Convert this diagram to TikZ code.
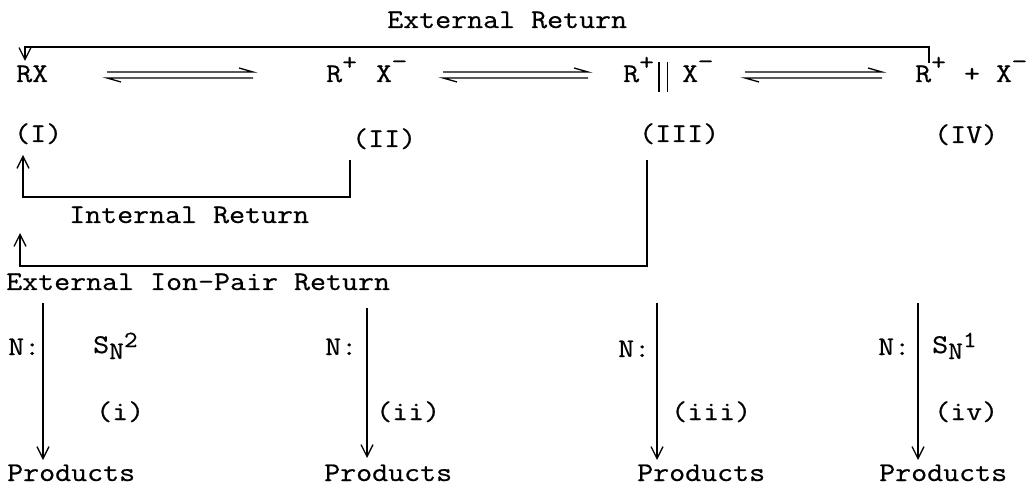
\documentclass[tikz,border=0pt]{standalone}
\usepackage{fontspec}
\setmainfont{Latin Modern Mono}[FakeStretch=1.15,FakeBold=0.6]
\usetikzlibrary{arrows.meta}
\newcommand\myup[1]{\raisebox{12pt}{\fontsize{25}{25}\selectfont #1}}
\newcommand\mydn[1]{\raisebox{13pt}{\fontsize{25}{25}\selectfont #1}}
\begin{document}
\begin{tikzpicture}[x=1pt,y=-1pt,
  txt/.style={anchor=base west,inner sep=0pt,font=\fontsize{27}{30}\selectfont},
  ln/.style={line width=1.3pt},
  arr/.style={ln,-{Straight Barb[length=12pt,width=12pt,line width=1.3pt]}},
  eq/.style={ln,line join=miter}
 ]
\useasboundingbox (0,0) rectangle (1031,489);
% title
\node[txt] (ext) at (387,28) {External Return};
% species
\node[txt] (s1) at (16,82) {RX};
\node[txt] (s2) at (326,82) {R\myup{+}\kern 19pt X\mydn{−}};
\node[txt] (s3) at (623,82) {R\myup{+}\kern 4pt\rule[-10pt]{1.6pt}{30pt}\kern 7pt\rule[-10pt]{1.6pt}{30pt}\kern 14pt X\mydn{−}};
\node[txt] (s4) at (915,82) {R\myup{+}\kern 18pt+\kern 16pt X\mydn{−}};
% labels
\node[txt] (l1) at (14,142) {(I)};
\node[txt] (l2) at (352,147) {(II)};
\node[txt] (l3) at (639,142) {(III)};
\node[txt] (l4) at (934,143) {(IV)};
\node[txt] (ir) at (69,223) {Internal Return};
\node[txt] (eipr) at (6,290) {External Ion-Pair Return};
% equilibrium arrows
\coordinate (e1l) at (107,75); \coordinate (e1r) at (253,75);
\coordinate (e2l) at (443,75); \coordinate (e2r) at (588,75);
\coordinate (e3l) at (745,75); \coordinate (e3r) at (882,75);
\foreach \a/\b in {e1l/e1r,e2l/e2r,e3l/e3r}{
  \draw[eq] ([yshift=3pt]\a) -- ([yshift=3pt]\b) -- ++(-14,-4);
  \draw[eq] ([yshift=-3pt]\b) -- ([yshift=-3pt]\a) -- ++(14,4);
}
% external return
\coordinate (xr0) at (929,63);
\coordinate (xr1) at (25,47);
\coordinate (xr2) at (25,61);
\draw[arr] (xr0) |- (xr1) -- (xr2);
% internal return
\coordinate (ir0) at (350,160);
\coordinate (ir1) at (23,197);
\coordinate (ir2) at (23,155);
\draw[arr] (ir0) |- (ir1) -- (ir2);
% external ion-pair return
\coordinate (ep0) at (647,160);
\coordinate (ep1) at (20,266);
\coordinate (ep2) at (20,233);
\draw[arr] (ep0) |- (ep1) -- (ep2);
% bottom row
\node[txt] (n1) at (8,355) {N:};
\node[txt] (n2) at (325,355) {N:};
\node[txt] (n3) at (618,357) {N:};
\node[txt] (n4) at (878,355) {N:};
\node[txt] (sn2) at (93,353) {S\raisebox{-6pt}{\fontsize{25}{25}\selectfont N}\raisebox{6pt}{\fontsize{23}{23}\selectfont 2}};
\node[txt] (sn1) at (932,353) {S\raisebox{-6pt}{\fontsize{25}{25}\selectfont N}\raisebox{6pt}{\fontsize{23}{23}\selectfont 1}};
\node[txt] (r1) at (96,420) {(i)};
\node[txt] (r2) at (376,420) {(ii)};
\node[txt] (r3) at (671,420) {(iii)};
\node[txt] (r4) at (934,420) {(iv)};
\node[txt] (p1) at (7,481) {Products};
\node[txt] (p2) at (324,481) {Products};
\node[txt] (p3) at (637,481) {Products};
\node[txt] (p4) at (879,481) {Products};
\coordinate (d1a) at (43,303); \coordinate (d1b) at (43,460);
\coordinate (d2a) at (367,308); \coordinate (d2b) at (367,458);
\coordinate (d3a) at (657,303); \coordinate (d3b) at (657,460);
\coordinate (d4a) at (918,303); \coordinate (d4b) at (918,460);
\draw[arr] (d1a) -- (d1b);
\draw[arr] (d2a) -- (d2b);
\draw[arr] (d3a) -- (d3b);
\draw[arr] (d4a) -- (d4b);
\end{tikzpicture}
\end{document}
